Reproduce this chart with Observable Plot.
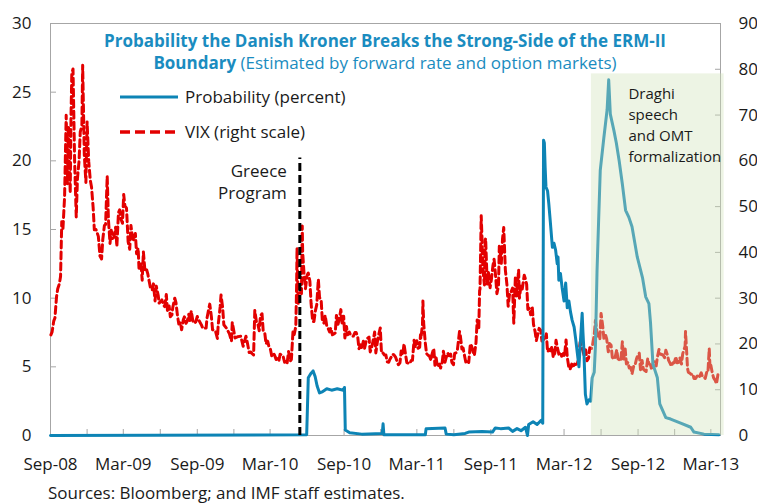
<!DOCTYPE html>
<html><head><meta charset="utf-8">
<script src="https://cdn.jsdelivr.net/npm/d3@7"></script>
<script src="https://cdn.jsdelivr.net/npm/@observablehq/plot@0.6"></script>
<style>
body{margin:0;background:#fff;}
#wrap{position:relative;width:757px;height:504px;overflow:hidden;font-family:"Open Sans",sans-serif;background:#fff;}
#wrap > svg.overlay{position:absolute;left:0;top:0;pointer-events:none;}
#chart{position:absolute;left:0;top:0;}
</style></head><body>
<div id="wrap"><div id="chart"></div></div>
<script>
// ---------- data ----------
const leftTicks = [0, 5, 10, 15, 20, 25, 30];
const rightTicks = [0, 10, 20, 30, 40, 50, 60, 70, 80, 90];
const xTickLabels = ["Sep-08","Mar-09","Sep-09","Mar-10","Sep-10","Mar-11","Sep-11","Mar-12","Sep-12","Mar-13"];
const xLabelDates = ["2008-09-01","2009-03-01","2009-09-01","2010-03-01","2010-09-01","2011-03-01","2011-09-01","2012-03-01","2012-09-01","2013-03-01"];
const xMinorDates = ["2008-09-01","2008-12-01","2009-03-01","2009-06-01","2009-09-01","2009-12-01","2010-03-01","2010-06-01","2010-09-01","2010-12-01","2011-03-01","2011-06-01","2011-09-01","2011-12-01","2012-03-01","2012-06-01","2012-09-01","2012-12-01","2013-03-01"];
const xDomain = ["2008-09-01", "2013-03-25"];

// VIX (right scale)
const vixSeries = [
["2008-09-02",21.99],["2008-09-05",22.64],["2008-09-09",24.98],["2008-09-12",25.66],["2008-09-16",30.3],["2008-09-19",32.07],["2008-09-23",33.1],["2008-09-26",34.74],["2008-09-29",46.72],["2008-10-02",45.26],["2008-10-06",52.05],["2008-10-10",69.95],["2008-10-13",54.99],["2008-10-16",67.61],["2008-10-20",52.97],["2008-10-22",69.65],["2008-10-24",79.13],["2008-10-27",80.06],["2008-10-29",69.96],["2008-10-31",59.89],["2008-11-04",47.73],["2008-11-07",56.1],["2008-11-11",59.98],["2008-11-14",66.31],["2008-11-18",67.64],["2008-11-20",80.86],["2008-11-24",61.44],["2008-11-28",55.28],["2008-12-01",68.51],["2008-12-05",59.93],["2008-12-09",55.73],["2008-12-12",54.28],["2008-12-16",49.84],["2008-12-19",44.93],["2008-12-23",45.02],["2008-12-29",43.5],
["2009-01-02",39.19],["2009-01-06",38.56],["2009-01-09",42.82],["2009-01-13",45.84],["2009-01-16",46.11],["2009-01-20",56.65],["2009-01-23",47.27],["2009-01-27",41.96],["2009-01-30",44.84],["2009-02-03",43.06],["2009-02-06",43.37],["2009-02-10",45.5],["2009-02-13",41.25],["2009-02-17",48.66],["2009-02-20",49.3],["2009-02-24",47.08],["2009-02-27",46.35],["2009-03-02",52.65],["2009-03-05",50.17],["2009-03-09",49.68],["2009-03-13",42.36],["2009-03-17",40.7],["2009-03-20",45.89],["2009-03-24",43.2],["2009-03-27",42.64],["2009-03-31",44.14],["2009-04-03",39.7],["2009-04-07",40.9],["2009-04-09",36.53],["2009-04-14",37.5],["2009-04-17",33.94],["2009-04-20",40.1],["2009-04-24",35.82],["2009-04-28",36.2],["2009-05-01",35.3],["2009-05-05",33.4],["2009-05-08",32.05],["2009-05-12",31.8],["2009-05-15",33.12],["2009-05-19",29.4],["2009-05-22",32.63],["2009-05-27",30.5],["2009-05-29",28.92],["2009-06-02",29.3],["2009-06-05",29.62],["2009-06-09",28.5],["2009-06-12",28.15],["2009-06-16",30.8],["2009-06-19",27.0],["2009-06-23",28.3],["2009-06-26",25.93],["2009-06-30",26.35],["2009-07-02",27.95],["2009-07-07",30.0],["2009-07-10",29.02],["2009-07-14",26.0],["2009-07-17",24.34],["2009-07-21",24.7],["2009-07-24",23.09],["2009-07-28",25.2],["2009-07-31",25.92],["2009-08-04",24.5],["2009-08-07",25.0],["2009-08-11",26.5],["2009-08-14",24.9],["2009-08-17",27.2],["2009-08-21",25.0],["2009-08-25",24.5],["2009-08-28",24.8],["2009-09-01",26.0],["2009-09-04",25.3],["2009-09-11",24.2],["2009-09-15",23.4],["2009-09-18",23.4],["2009-09-23",23.5],["2009-09-25",25.6],["2009-10-01",28.3],["2009-10-02",28.7],["2009-10-06",26.0],["2009-10-09",23.1],["2009-10-16",22.9],["2009-10-21",21.2],["2009-10-23",24.2],["2009-10-28",28.2],["2009-10-30",30.69],["2009-11-03",28.0],["2009-11-06",24.2],["2009-11-13",23.4],["2009-11-20",22.2],["2009-11-25",20.6],["2009-11-27",24.7],["2009-12-04",21.3],["2009-12-11",21.6],["2009-12-18",21.7],["2009-12-24",19.5],["2009-12-31",21.7],
["2010-01-04",20.04],["2010-01-08",18.13],["2010-01-12",18.25],["2010-01-15",17.91],["2010-01-19",17.58],["2010-01-22",27.31],["2010-01-26",24.9],["2010-01-29",24.62],["2010-02-02",22.9],["2010-02-05",26.11],["2010-02-09",26.6],["2010-02-12",22.73],["2010-02-16",22.25],["2010-02-19",20.02],["2010-02-23",20.6],["2010-02-26",19.5],["2010-03-02",18.8],["2010-03-05",17.42],["2010-03-09",18.0],["2010-03-12",17.58],["2010-03-16",16.6],["2010-03-19",16.97],["2010-03-23",16.4],["2010-03-26",17.77],["2010-03-30",17.5],["2010-04-02",17.47],["2010-04-06",16.0],["2010-04-09",16.14],["2010-04-12",15.58],["2010-04-16",18.36],["2010-04-20",16.2],["2010-04-23",16.62],["2010-04-27",22.81],["2010-04-30",22.05],["2010-05-04",23.84],["2010-05-06",32.8],["2010-05-07",40.95],["2010-05-10",28.84],["2010-05-14",31.24],["2010-05-18",31.0],["2010-05-20",45.79],["2010-05-21",40.1],["2010-05-25",34.6],["2010-05-28",32.07],["2010-06-01",35.0],["2010-06-04",35.48],["2010-06-08",33.7],["2010-06-11",28.79],["2010-06-15",24.9],["2010-06-18",24.88],["2010-06-22",27.4],["2010-06-25",28.53],["2010-06-29",34.13],["2010-07-02",30.12],["2010-07-06",29.65],["2010-07-09",24.98],["2010-07-13",24.56],["2010-07-16",26.25],["2010-07-20",23.9],["2010-07-23",23.47],["2010-07-27",22.6],["2010-07-30",23.5],["2010-08-03",22.0],["2010-08-06",22.14],["2010-08-10",22.4],["2010-08-13",26.24],["2010-08-17",24.3],["2010-08-20",25.49],["2010-08-24",27.5],["2010-08-27",24.45],["2010-08-31",26.05],["2010-09-03",21.31],["2010-09-07",23.8],["2010-09-10",21.99],["2010-09-14",22.6],["2010-09-17",22.01],["2010-09-21",21.7],["2010-09-24",21.71],["2010-09-28",22.5],["2010-10-01",22.5],["2010-10-05",21.5],["2010-10-08",18.96],["2010-10-12",19.8],["2010-10-15",19.03],["2010-10-19",20.6],["2010-10-22",19.08],["2010-10-26",20.7],["2010-10-29",21.2],["2010-11-02",21.5],["2010-11-05",18.26],["2010-11-09",19.4],["2010-11-12",20.61],["2010-11-16",22.6],["2010-11-19",18.04],["2010-11-23",20.6],["2010-11-26",22.0],["2010-11-30",23.5],["2010-12-03",17.99],["2010-12-07",18.0],["2010-12-10",17.61],["2010-12-14",17.6],["2010-12-17",16.11],["2010-12-21",16.0],["2010-12-23",16.47],["2010-12-31",17.75],
["2011-01-03",17.61],["2011-01-07",17.14],["2011-01-11",16.1],["2011-01-14",15.46],["2011-01-18",15.9],["2011-01-21",18.47],["2011-01-25",17.6],["2011-01-28",20.04],["2011-02-01",17.6],["2011-02-04",15.93],["2011-02-08",15.8],["2011-02-11",15.69],["2011-02-15",16.4],["2011-02-18",16.43],["2011-02-22",20.8],["2011-02-25",19.22],["2011-03-01",20.7],["2011-03-04",19.06],["2011-03-08",19.3],["2011-03-10",22.0],["2011-03-11",21.13],["2011-03-15",24.32],["2011-03-16",29.4],["2011-03-18",24.44],["2011-03-22",20.2],["2011-03-25",17.91],["2011-03-29",17.5],["2011-04-01",17.4],["2011-04-05",16.4],["2011-04-08",17.87],["2011-04-12",19.0],["2011-04-15",15.32],["2011-04-18",16.96],["2011-04-21",15.07],["2011-04-26",15.6],["2011-04-29",14.75],["2011-05-03",15.99],["2011-05-06",18.4],["2011-05-10",16.0],["2011-05-13",17.07],["2011-05-17",18.0],["2011-05-20",17.43],["2011-05-24",17.8],["2011-05-27",15.98],["2011-05-31",15.45],["2011-06-03",17.95],["2011-06-07",18.1],["2011-06-10",18.86],["2011-06-15",22.7],["2011-06-17",21.85],["2011-06-21",18.9],["2011-06-24",19.1],["2011-06-28",17.2],["2011-07-01",15.87],["2011-07-05",16.3],["2011-07-08",15.95],["2011-07-12",20.0],["2011-07-15",19.53],["2011-07-19",18.2],["2011-07-22",17.52],["2011-07-26",20.3],["2011-07-29",25.25],["2011-08-02",23.4],["2011-08-04",31.66],["2011-08-05",32.0],["2011-08-08",48.0],["2011-08-10",42.99],["2011-08-12",36.36],["2011-08-16",32.9],["2011-08-18",42.67],["2011-08-19",43.05],["2011-08-23",32.9],["2011-08-26",35.59],["2011-08-30",32.3],["2011-09-02",33.92],["2011-09-06",37.0],["2011-09-09",38.52],["2011-09-13",34.6],["2011-09-16",30.98],["2011-09-20",32.7],["2011-09-22",41.35],["2011-09-23",41.25],["2011-09-27",37.6],["2011-09-30",42.96],["2011-10-03",45.45],["2011-10-07",36.2],["2011-10-11",32.9],["2011-10-14",28.24],["2011-10-18",31.3],["2011-10-21",31.32],["2011-10-25",32.2],["2011-10-28",24.53],["2011-11-01",34.77],["2011-11-04",30.5],["2011-11-09",36.2],["2011-11-11",30.0],["2011-11-15",32.8],["2011-11-18",32.0],["2011-11-23",35.0],["2011-11-25",34.47],["2011-11-29",33.0],["2011-12-02",27.52],["2011-12-06",27.8],["2011-12-09",26.38],["2011-12-13",28.0],["2011-12-16",24.29],["2011-12-20",22.7],["2011-12-23",20.73],["2011-12-30",23.4],
["2012-01-03",22.97],["2012-01-06",20.63],["2012-01-10",21.07],["2012-01-13",20.91],["2012-01-17",22.2],["2012-01-20",18.28],["2012-01-24",18.8],["2012-01-27",18.53],["2012-01-31",19.44],["2012-02-03",17.1],["2012-02-07",18.0],["2012-02-10",20.79],["2012-02-14",19.0],["2012-02-17",17.78],["2012-02-21",18.2],["2012-02-24",17.31],["2012-02-28",17.9],["2012-03-02",17.29],["2012-03-06",20.87],["2012-03-09",17.11],["2012-03-13",14.8],["2012-03-16",14.47],["2012-03-20",15.6],["2012-03-23",14.82],["2012-03-27",15.6],["2012-03-30",15.5],["2012-04-03",15.7],["2012-04-06",16.7],["2012-04-10",20.39],["2012-04-13",19.55],["2012-04-17",18.5],["2012-04-20",17.44],["2012-04-24",18.7],["2012-04-27",16.32],["2012-05-01",16.9],["2012-05-04",19.16],["2012-05-08",19.0],["2012-05-11",19.89],["2012-05-15",21.97],["2012-05-18",25.1],["2012-05-22",22.5],["2012-05-25",21.76],["2012-05-29",21.0],["2012-06-01",26.66],["2012-06-05",24.0],["2012-06-08",21.23],["2012-06-12",22.0],["2012-06-15",21.11],["2012-06-19",18.3],["2012-06-22",20.11],["2012-06-26",19.7],["2012-06-29",17.08],["2012-07-03",16.66],["2012-07-06",17.1],["2012-07-10",18.7],["2012-07-13",16.74],["2012-07-17",16.5],["2012-07-20",16.27],["2012-07-24",20.47],["2012-07-27",16.7],["2012-07-31",18.9],["2012-08-03",15.64],["2012-08-07",15.99],["2012-08-10",14.74],["2012-08-14",14.85],["2012-08-17",13.45],["2012-08-21",15.1],["2012-08-24",15.18],["2012-08-28",16.7],["2012-08-31",17.47],["2012-09-04",17.98],["2012-09-07",14.38],["2012-09-11",16.4],["2012-09-14",14.51],["2012-09-18",14.18],["2012-09-21",13.98],["2012-09-25",16.8],["2012-09-28",15.73],["2012-10-02",15.4],["2012-10-05",14.33],["2012-10-09",16.1],["2012-10-12",16.14],["2012-10-16",15.2],["2012-10-19",17.06],["2012-10-23",18.8],["2012-10-26",17.81],["2012-11-02",17.59],["2012-11-06",17.0],["2012-11-09",18.61],["2012-11-13",17.6],["2012-11-16",16.41],["2012-11-20",15.7],["2012-11-23",15.14],["2012-11-27",15.9],["2012-11-30",15.87],["2012-12-04",17.2],["2012-12-07",15.9],["2012-12-11",16.0],["2012-12-14",17.0],["2012-12-18",15.6],["2012-12-21",17.84],["2012-12-27",19.5],["2012-12-28",22.72],["2012-12-31",18.02],
["2013-01-02",14.68],["2013-01-04",13.83],["2013-01-08",13.6],["2013-01-11",13.36],["2013-01-15",13.5],["2013-01-18",12.46],["2013-01-22",12.43],["2013-01-25",12.89],["2013-01-29",13.3],["2013-02-01",12.9],["2013-02-05",13.7],["2013-02-08",12.9],["2013-02-12",12.9],["2013-02-15",12.46],["2013-02-20",14.3],["2013-02-22",14.17],["2013-02-25",18.99],["2013-02-27",14.7],["2013-03-01",15.36],["2013-03-05",13.5],["2013-03-08",12.59],["2013-03-12",12.0],["2013-03-15",11.3],["2013-03-19",13.5],["2013-03-22",13.57]
];

// Probability (percent, left scale)
const probSeries = [
["2008-09-01",0],["2010-05-31",0.05],["2010-06-04",4.2],["2010-06-10",4.5],["2010-06-16",4.7],["2010-06-21",4.3],["2010-06-26",3.6],["2010-07-02",3.1],["2010-07-10",3.2],["2010-07-20",3.4],["2010-08-01",3.3],["2010-08-15",3.4],["2010-08-30",3.3],["2010-09-02",3.5],["2010-09-04",0.4],["2010-09-15",0.2],["2010-10-15",0.1],["2010-12-05",0.15],["2010-12-07",0.85],["2010-12-09",0.05],["2011-03-22",0.05],["2011-03-24",0.5],["2011-05-10",0.55],["2011-05-13",0.1],["2011-06-01",0.05],["2011-06-29",0.15],["2011-07-08",0.25],["2011-08-10",0.3],["2011-09-05",0.25],["2011-09-12",0.55],["2011-09-25",0.5],["2011-10-15",0.55],["2011-10-25",0.3],["2011-11-05",0.5],["2011-11-15",0.35],["2011-11-26",0.6],["2011-12-01",0.0],["2011-12-04",0.8],["2011-12-15",1.0],["2011-12-25",0.8],["2012-01-04",1.1],["2012-01-08",0.9],
["2012-01-10",21.5],["2012-01-12",21.3],["2012-01-14",19.5],["2012-01-16",18.1],["2012-01-20",17.8],["2012-01-23",16.9],["2012-01-27",15.5],["2012-02-01",13.7],["2012-02-05",14.0],["2012-02-09",13.5],["2012-02-13",12.5],["2012-02-15",13.0],["2012-02-17",11.3],["2012-02-21",11.8],["2012-02-25",10.8],["2012-03-01",9.8],["2012-03-05",11.1],["2012-03-07",10.2],["2012-03-09",9.3],["2012-03-13",9.8],["2012-03-17",9.0],["2012-03-21",8.4],["2012-03-26",7.9],["2012-03-30",7.0],["2012-04-03",6.0],["2012-04-07",5.0],["2012-04-11",7.0],["2012-04-15",8.9],["2012-04-17",7.5],["2012-04-19",6.4],["2012-04-23",3.0],["2012-04-27",2.3],["2012-05-02",2.6],["2012-05-06",2.5],["2012-05-10",4.2],["2012-05-15",4.6],["2012-05-18",6.5],["2012-05-22",12.0],["2012-05-26",15.7],["2012-05-30",19.3],["2012-06-08",21.7],["2012-06-16",23.7],["2012-06-20",25.9],["2012-06-24",23.4],["2012-07-03",22.2],["2012-07-09",21.3],["2012-07-16",20.0],["2012-07-24",18.3],["2012-08-01",16.4],["2012-08-09",15.9],["2012-08-17",15.2],["2012-08-30",13.0],["2012-09-12",11.5],["2012-09-20",10.1],["2012-09-28",9.6],["2012-10-02",8.2],["2012-10-08",5.2],["2012-10-19",4.2],["2012-10-25",2.3],["2012-11-09",1.3],["2012-11-21",1.2],["2012-12-16",0.9],["2013-01-10",0.6],["2013-01-18",0.25],["2013-02-12",0.1],["2013-03-21",0.05]
];

const greeceDate = "2010-05-14";
const greeceTop = 20.2;          // left-scale value at the top of the dashed line
const draghiStart = "2012-05-08";
const draghiEnd = "2013-04-03";
const draghiTop = 79;            // right-scale value at the top of the shaded box

// ---------- chart ----------
const parse = d3.utcParse("%Y-%m-%d");
const vix = vixSeries.map(([d, v]) => ({date: parse(d), v}));
const prob = probSeries.map(([d, v]) => ({date: parse(d), v}));
const labelMap = new Map(xLabelDates.map((d, i) => [+parse(d), xTickLabels[i]]));
const RATIO = 3; // right scale / left scale

const BLUE = "#0d84b5", RED = "#e30000", GRID = "#a6a6a6";

const chart = Plot.plot({
  width: 757, height: 504,
  marginTop: 23, marginBottom: 69, marginLeft: 50, marginRight: 37,
  style: {fontFamily: "'Open Sans', sans-serif", fontSize: "17px", color: "#1a1a1a", background: "white", overflow: "visible"},
  x: {type: "utc", domain: xDomain.map(parse)},
  y: {domain: [0, 30]},
  marks: [
    Plot.axisY({ticks: leftTicks, tickSize: 6, dx: 6, tickFormat: () => "", stroke: GRID, label: null}),
    Plot.axisY({ticks: leftTicks, tickSize: 0, tickPadding: 19, label: null, fontSize: 17}),
    Plot.axisY({anchor: "right", ticks: rightTicks.map(v => v / RATIO), tickSize: 6, dx: -6, tickFormat: () => "", stroke: GRID, label: null}),
    Plot.axisY({anchor: "right", ticks: rightTicks.map(v => v / RATIO), tickSize: 0, tickPadding: 18, tickFormat: d => String(Math.round(d * RATIO)), label: null, fontSize: 17}),
    Plot.axisX({ticks: xMinorDates.map(parse), tickSize: 6, dy: -6, tickFormat: () => "", stroke: GRID, label: null}),
    Plot.axisX({ticks: xLabelDates.map(parse), tickSize: 0, tickPadding: 22, tickFormat: d => labelMap.get(+d), label: null, fontSize: 17}),
    Plot.frame({stroke: GRID}),
    Plot.line(vix, {x: "date", y: d => d.v / RATIO, stroke: RED, strokeWidth: 3, strokeDasharray: "7,4", strokeLinejoin: "round"}),
    Plot.line(prob, {x: "date", y: "v", stroke: BLUE, strokeWidth: 3, strokeLinejoin: "round"}),
    Plot.ruleX([parse(greeceDate)], {y1: 0, y2: greeceTop, stroke: "#000", strokeWidth: 3, strokeDasharray: "8,4"}),
    Plot.text([parse(greeceDate)], {x: d => d, frameAnchor: "top", lineAnchor: "top", dy: 138, dx: -13, textAnchor: "end", text: () => "Greece\nProgram", lineHeight: 1.3, fontSize: 17, fill: "#1a1a1a"}),
    Plot.rect([{x1: parse(draghiStart), x2: parse(draghiEnd), top: draghiTop}], {x1: "x1", x2: "x2", y1: 0, y2: d => d.top / RATIO, fill: "#cfe2b9", fillOpacity: 0.38}),
    Plot.text([parse(draghiStart)], {x: d => d, frameAnchor: "top", lineAnchor: "top", dy: 61, dx: 37, textAnchor: "start", text: () => "Draghi\nspeech\nand OMT\nformalization", lineHeight: 1.4, fontSize: 15, fill: "#1a1a1a"})
  ]
});
document.getElementById("chart").appendChild(chart);

// ---------- title, legend, source ----------
const TITLE = "#1a8cc0";
const overlay = `
<svg class="overlay" width="757" height="504" xmlns="http://www.w3.org/2000/svg" font-family="'Open Sans', sans-serif">
  <text x="385" y="47" text-anchor="middle" font-weight="bold" font-size="17" fill="${TITLE}">Probability the Danish Kroner Breaks the Strong-Side of the ERM-II</text>
  <text x="385" y="69" text-anchor="middle" font-size="17" fill="${TITLE}"><tspan font-weight="bold">Boundary</tspan> (Estimated by forward rate and option markets)</text>
  <line x1="120" x2="178" y1="97" y2="97" stroke="${BLUE}" stroke-width="3"/>
  <text x="185" y="103" font-size="17" fill="#1a1a1a">Probability (percent)</text>
  <line x1="120" x2="178" y1="132" y2="132" stroke="${RED}" stroke-width="3.5" stroke-dasharray="10,5"/>
  <text x="185" y="138" font-size="17" fill="#1a1a1a">VIX (right scale)</text>
  <text x="48" y="499" font-size="17" fill="#1a1a1a">Sources: Bloomberg; and IMF staff estimates.</text>
</svg>`;
document.getElementById("wrap").insertAdjacentHTML("beforeend", overlay);
</script>
</body></html>
